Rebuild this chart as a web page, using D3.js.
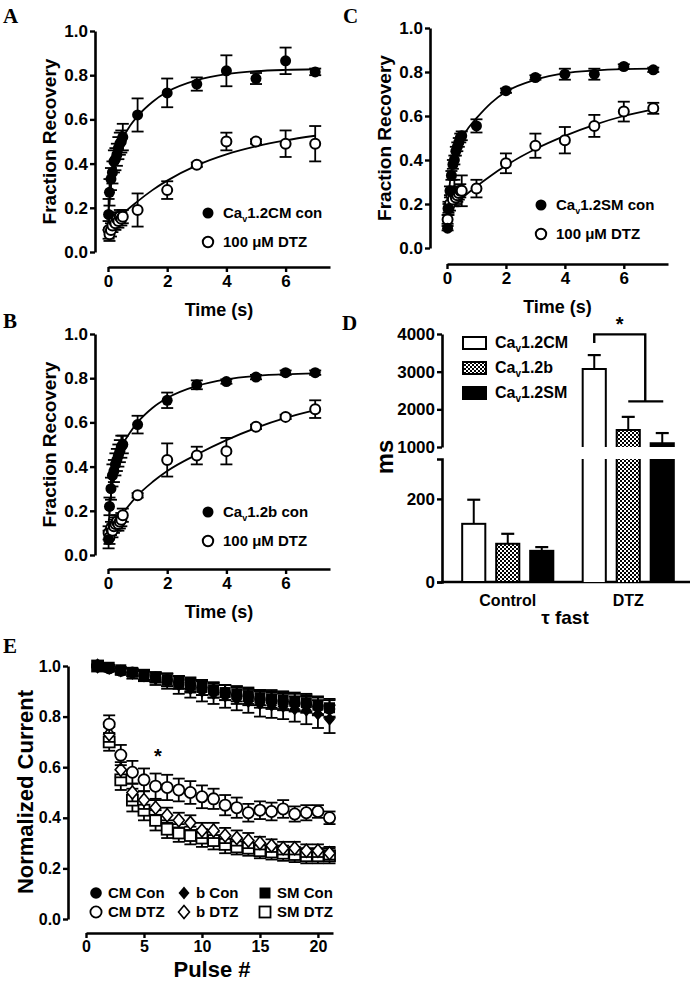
<!DOCTYPE html>
<html><head><meta charset="utf-8">
<script src="https://cdn.jsdelivr.net/npm/d3@7"></script>
<style>body{margin:0;background:#fff}</style>
</head><body>
<script>
// ---------- DATA ----------
// Panels A-C: recovery time points (s)
const recTime = [0.02,0.05,0.1,0.15,0.2,0.25,0.3,0.35,0.4,0.45,0.5,1,2,3,4,5,6,7];
const recTimeTicks = [0,2,4,6];
const recYTicks = [0,0.2,0.4,0.6,0.8,1.0];

const aCon    = [0.17,0.27,0.33,0.36,0.41,0.42,0.44,0.47,0.49,0.50,0.52,0.62,0.72,0.76,0.82,0.785,0.865,0.815];
const aConErr = [0.07,0.06,0.05,0.05,0.05,0.05,0.05,0.05,0.05,0.05,0.06,0.075,0.065,0.03,0.07,0.025,0.06,0.015];
const aDtz    = [0.10,0.08,0.10,0.12,0.14,0.13,0.15,0.14,0.16,0.15,0.16,0.19,0.28,0.395,0.50,0.50,0.49,0.49];
const aDtzErr = [0.04,0.03,0.03,0.03,0.03,0.03,0.03,0.03,0.03,0.03,0.03,0.075,0.04,0.01,0.04,0.01,0.06,0.08];
const aConFitT = [0,0.1,0.2,0.3,0.5,0.75,1,1.5,2,3,4,5,6,7];
const aConFit  = [0.15,0.30,0.39,0.447,0.515,0.572,0.615,0.679,0.725,0.778,0.805,0.818,0.824,0.827];
const aDtzFitT = [0,0.25,0.5,1,1.5,2,3,4,5,6,7];
const aDtzFit  = [0.10,0.137,0.172,0.229,0.28,0.323,0.392,0.442,0.478,0.505,0.526];

const bCon    = [0.07,0.22,0.30,0.36,0.38,0.41,0.43,0.45,0.47,0.49,0.50,0.59,0.70,0.77,0.785,0.805,0.825,0.825];
const bConErr = [0.04,0.04,0.05,0.05,0.05,0.05,0.05,0.05,0.05,0.05,0.04,0.04,0.035,0.02,0.01,0.01,0.01,0.01];
const bDtz    = [0.10,0.08,0.12,0.11,0.13,0.14,0.15,0.14,0.15,0.16,0.18,0.27,0.43,0.45,0.47,0.58,0.625,0.66];
const bDtzErr = [0.03,0.03,0.03,0.03,0.03,0.03,0.03,0.03,0.03,0.03,0.03,0.01,0.075,0.04,0.06,0.01,0.01,0.04];
const bConFitT = [0,0.1,0.2,0.3,0.5,0.75,1,1.5,2,3,4,5,6,7];
const bConFit  = [0.10,0.27,0.37,0.43,0.50,0.555,0.60,0.665,0.71,0.765,0.795,0.81,0.818,0.822];
const bDtzFitT = [0,0.5,1,1.5,2,3,4,5,6,7];
const bDtzFit  = [0.10,0.19,0.27,0.33,0.38,0.455,0.52,0.575,0.62,0.655];

const cCon    = [0.09,0.18,0.26,0.33,0.38,0.40,0.44,0.46,0.48,0.50,0.51,0.555,0.715,0.775,0.79,0.79,0.825,0.81];
const cConErr = [0.01,0.02,0.02,0.02,0.02,0.02,0.02,0.02,0.02,0.02,0.02,0.03,0.01,0.01,0.025,0.025,0.01,0.01];
const cDtz    = [0.13,0.18,0.20,0.24,0.22,0.25,0.23,0.24,0.25,0.26,0.26,0.27,0.385,0.465,0.49,0.555,0.62,0.635];
const cDtzErr = [0.02,0.03,0.03,0.03,0.03,0.06,0.03,0.03,0.03,0.03,0.07,0.04,0.045,0.055,0.06,0.05,0.045,0.025];
const cConFitT = [0,0.1,0.2,0.3,0.5,0.75,1,1.5,2,3,4,5,6,7];
const cConFit  = [0.12,0.30,0.39,0.44,0.50,0.55,0.59,0.66,0.71,0.765,0.795,0.807,0.813,0.815];
const cDtzFitT = [0,0.25,0.5,1,1.5,2,3,4,5,6,7];
const cDtzFit  = [0.15,0.19,0.225,0.28,0.33,0.375,0.45,0.51,0.56,0.60,0.63];

// Panel D: tau fast (ms)
const tauGroups = ["Control","DTZ"];
const tauSeries = ["1.2CM","1.2b","1.2SM"];
const tauControl    = [140, 92, 75];
const tauControlErr = [58, 24, 9];
const tauDTZ        = [3070, 1450, 1100];
const tauDTZErr     = [370, 350, 270];
const tauLowTicks = [0,200];
const tauHighTicks = [1000,2000,3000,4000];

// Panel E: normalized current vs pulse #
const pulses = [1,2,3,4,5,6,7,8,9,10,11,12,13,14,15,16,17,18,19,20,21];
const pulseTicks = [0,5,10,15,20];
const eYTicks = [0,0.2,0.4,0.6,0.8,1.0];
const cmCon = [1.00,0.99,0.98,0.975,0.965,0.955,0.945,0.935,0.925,0.915,0.905,0.895,0.885,0.88,0.87,0.865,0.86,0.855,0.85,0.84,0.83];
const cmConErr = [0.005,0.01,0.01,0.015,0.02,0.02,0.025,0.025,0.03,0.03,0.03,0.03,0.035,0.035,0.035,0.035,0.035,0.035,0.035,0.035,0.035];
const bConE = [1.00,0.99,0.98,0.97,0.96,0.95,0.94,0.925,0.91,0.90,0.89,0.88,0.87,0.86,0.85,0.845,0.84,0.83,0.825,0.81,0.79];
const bConEErr = [0.005,0.01,0.015,0.02,0.02,0.025,0.03,0.035,0.035,0.04,0.04,0.045,0.045,0.045,0.05,0.05,0.05,0.05,0.055,0.055,0.055];
const smCon = [1.00,0.995,0.985,0.975,0.965,0.955,0.945,0.935,0.925,0.915,0.905,0.895,0.89,0.88,0.875,0.87,0.865,0.86,0.855,0.845,0.835];
const smConErr = [0.005,0.01,0.01,0.015,0.02,0.02,0.025,0.025,0.025,0.03,0.03,0.03,0.03,0.03,0.03,0.035,0.035,0.035,0.035,0.035,0.035];
const cmDtz = [1.00,0.77,0.648,0.58,0.55,0.525,0.52,0.51,0.50,0.483,0.475,0.45,0.44,0.42,0.43,0.425,0.435,0.415,0.42,0.425,0.40];
const cmDtzErr = [0,0.035,0.04,0.045,0.045,0.05,0.05,0.045,0.045,0.045,0.04,0.04,0.04,0.035,0.035,0.035,0.035,0.03,0.03,0.025,0.025];
const bDtzE = [1.00,0.73,0.59,0.50,0.47,0.44,0.41,0.39,0.38,0.35,0.35,0.33,0.32,0.31,0.30,0.29,0.28,0.28,0.27,0.27,0.26];
const bDtzEErr = [0,0.03,0.03,0.035,0.035,0.03,0.03,0.03,0.03,0.03,0.03,0.03,0.03,0.03,0.025,0.025,0.025,0.025,0.025,0.025,0.025];
const smDtz = [1.00,0.70,0.55,0.47,0.43,0.39,0.355,0.34,0.33,0.32,0.31,0.295,0.285,0.28,0.27,0.265,0.26,0.255,0.25,0.25,0.25];
const smDtzErr = [0,0.035,0.04,0.045,0.04,0.04,0.035,0.035,0.035,0.035,0.035,0.035,0.03,0.03,0.03,0.03,0.03,0.03,0.03,0.03,0.03];

// ---------- DRAWING ----------
const FONT = "'Liberation Sans', Arial, Helvetica, sans-serif";
const SERIF = "'Liberation Serif', 'Times New Roman', serif";
const svg = d3.select("body").append("svg").attr("width",691).attr("height",994)
  .style("background","#fff");

const defs = svg.append("defs");
const pat = defs.append("pattern").attr("id","checker").attr("patternUnits","userSpaceOnUse")
  .attr("width",4).attr("height",4);
pat.append("rect").attr("width",4).attr("height",4).attr("fill","#fff");
pat.append("rect").attr("width",2).attr("height",2).attr("fill","#000");
pat.append("rect").attr("x",2).attr("y",2).attr("width",2).attr("height",2).attr("fill","#000");

function styleAxis(g, fs) {
  g.attr("font-family", FONT).attr("font-size", fs).attr("font-weight","bold");
  g.select(".domain").attr("stroke-width",2.6).attr("stroke","#000");
  g.selectAll(".tick line").attr("stroke-width",2.4).attr("stroke","#000");
  g.selectAll(".tick text").attr("fill","#000");
}

function panelLetter(t, x, y) {
  svg.append("text").attr("x",x).attr("y",y).text(t)
    .attr("font-family",SERIF).attr("font-weight","bold").attr("font-size",21);
}

function caLabel(sel, suffix, fs) {
  sel.append("tspan").text("Ca");
  sel.append("tspan").attr("font-size", Math.round(fs*0.62)).attr("dy", 4).text("v");
  sel.append("tspan").attr("dy", -4).text(suffix);
}

function errorBars(g, xs, ys, errs, x, y, cap) {
  xs.forEach((t,i) => {
    if (!errs[i]) return;
    const cx = x(t), lo = y(ys[i]-errs[i]), hi = y(ys[i]+errs[i]);
    g.append("line").attr("x1",cx).attr("x2",cx).attr("y1",lo).attr("y2",hi)
      .attr("stroke","#000").attr("stroke-width",1.8);
    [lo,hi].forEach(yy => g.append("line").attr("x1",cx-cap).attr("x2",cx+cap)
      .attr("y1",yy).attr("y2",yy).attr("stroke","#000").attr("stroke-width",1.8));
  });
}

function recoveryPanel(o) {
  const x = d3.scaleLinear().domain([0,7.5]).range([o.x0, o.x1]);
  const y = d3.scaleLinear().domain([0,1]).range([o.y0, o.y1]);
  const gy = svg.append("g").attr("transform",`translate(${o.ax},0)`)
    .call(d3.axisLeft(y).tickValues(recYTicks).tickFormat(d3.format(".1f"))
      .tickSize(5).tickSizeOuter(0).tickPadding(2));
  styleAxis(gy, 17);
  const gx = svg.append("g").attr("transform",`translate(0,${o.xAxisY})`)
    .call(d3.axisBottom(x).tickValues(recTimeTicks).tickSize(5).tickSizeOuter(0).tickPadding(3));
  styleAxis(gx, 17);

  svg.append("text").attr("transform",`translate(${o.ax-39},${(o.y0+o.y1)/2}) rotate(-90)`)
    .attr("text-anchor","middle").attr("font-family",FONT).attr("font-weight","bold")
    .attr("font-size",19).text("Fraction Recovery");
  svg.append("text").attr("x",(o.x0+o.x1)/2).attr("y",o.xAxisY+49)
    .attr("text-anchor","middle").attr("font-family",FONT).attr("font-weight","bold")
    .attr("font-size",18).text("Time (s)");

  const line = d3.line().x(d=>x(d[0])).y(d=>y(d[1])).curve(d3.curveMonotoneX);
  const g = svg.append("g");
  g.append("path").attr("d", line(o.conFitT.map((t,i)=>[t,o.conFit[i]])))
    .attr("fill","none").attr("stroke","#000").attr("stroke-width",1.8);
  g.append("path").attr("d", line(o.dtzFitT.map((t,i)=>[t,o.dtzFit[i]])))
    .attr("fill","none").attr("stroke","#000").attr("stroke-width",1.8);
  errorBars(g, recTime, o.dtz, o.dtzErr, x, y, 6);
  errorBars(g, recTime, o.con, o.conErr, x, y, 6);
  g.selectAll(null).data(recTime).join("circle")
    .attr("cx",d=>x(d)).attr("cy",(d,i)=>y(o.dtz[i])).attr("r",5)
    .attr("fill","#fff").attr("stroke","#000").attr("stroke-width",2);
  g.selectAll(null).data(recTime).join("circle")
    .attr("cx",d=>x(d)).attr("cy",(d,i)=>y(o.con[i])).attr("r",5.5)
    .attr("fill","#000");

  // legend
  const lx = o.legX, ly = o.legY;
  svg.append("circle").attr("cx",lx).attr("cy",ly).attr("r",5.5).attr("fill","#000");
  svg.append("circle").attr("cx",lx).attr("cy",ly+29).attr("r",5.2).attr("fill","#fff")
    .attr("stroke","#000").attr("stroke-width",2);
  const t1 = svg.append("text").attr("x",lx+15).attr("y",ly+5).attr("font-family",FONT)
    .attr("font-weight","bold").attr("font-size",15);
  caLabel(t1, o.legName, 15);
  svg.append("text").attr("x",lx+15).attr("y",ly+34).attr("font-family",FONT)
    .attr("font-weight","bold").attr("font-size",15).text("100 \u03BCM DTZ");
}

// Panel A
panelLetter("A", 3, 23);
recoveryPanel({x0:108,x1:330,y0:252,y1:31,ax:95,xAxisY:267,
  con:aCon,conErr:aConErr,dtz:aDtz,dtzErr:aDtzErr,
  conFitT:aConFitT,conFit:aConFit,dtzFitT:aDtzFitT,dtzFit:aDtzFit,
  legX:208,legY:213,legName:"1.2CM con"});
// Panel B
panelLetter("B", 3, 328);
recoveryPanel({x0:108,x1:330,y0:555,y1:334,ax:95,xAxisY:569,
  con:bCon,conErr:bConErr,dtz:bDtz,dtzErr:bDtzErr,
  conFitT:bConFitT,conFit:bConFit,dtzFitT:bDtzFitT,dtzFit:bDtzFit,
  legX:208,legY:512,legName:"1.2b con"});
// Panel C
panelLetter("C", 343, 23);
recoveryPanel({x0:447,x1:668,y0:248,y1:28,ax:430,xAxisY:264,
  con:cCon,conErr:cConErr,dtz:cDtz,dtzErr:cDtzErr,
  conFitT:cConFitT,conFit:cConFit,dtzFitT:cDtzFitT,dtzFit:cDtzFit,
  legX:541,legY:205,legName:"1.2SM con"});

// ---------- Panel D ----------
panelLetter("D", 342, 330);
(function(){
  const yLow = d3.scaleLinear().domain([0,296]).range([582,459]);
  const yHigh = d3.scaleLinear().domain([1000,4000]).range([447,334]);
  const x0 = d3.scaleBand().domain(tauGroups).range([447.5,688.5]);
  const x1 = d3.scaleBand().domain(tauSeries).range([0,x0.bandwidth()]).paddingInner(0.32).paddingOuter(0.432);
  const fills = ["#fff","url(#checker)","#000"];
  const axX = 442;
  const gHi = svg.append("g").attr("transform",`translate(${axX},0)`)
    .call(d3.axisLeft(yHigh).tickValues(tauHighTicks).tickFormat(d3.format("d")).tickSize(5).tickSizeOuter(0).tickPadding(2));
  styleAxis(gHi, 17);
  const gLo = svg.append("g").attr("transform",`translate(${axX},0)`)
    .call(d3.axisLeft(yLow).tickValues(tauLowTicks).tickFormat(d3.format("d")).tickSize(5).tickSizeOuter(5).tickPadding(2));
  styleAxis(gLo, 17);
  // x axis line
  svg.append("line").attr("x1",axX-1).attr("x2",690).attr("y1",yLow(0)).attr("y2",yLow(0))
    .attr("stroke","#000").attr("stroke-width",2.6);

  const g = svg.append("g");
  const bw = x1.bandwidth();
  // Control bars
  tauSeries.forEach((s,i)=>{
    const bx = x0("Control")+x1(s), v = tauControl[i], e = tauControlErr[i];
    const cx = bx+bw/2;
    g.append("line").attr("x1",cx).attr("x2",cx).attr("y1",yLow(v)).attr("y2",yLow(v+e)).attr("stroke","#000").attr("stroke-width",2);
    g.append("line").attr("x1",cx-6.5).attr("x2",cx+6.5).attr("y1",yLow(v+e)).attr("y2",yLow(v+e)).attr("stroke","#000").attr("stroke-width",2.2);
    g.append("rect").attr("x",bx).attr("y",yLow(v)).attr("width",bw).attr("height",yLow(0)-yLow(v))
      .attr("fill",fills[i]).attr("stroke","#000").attr("stroke-width",2);
  });
  // DTZ bars (broken axis)
  tauSeries.forEach((s,i)=>{
    const bx = x0("DTZ")+x1(s), v = tauDTZ[i], e = tauDTZErr[i];
    const cx = bx+bw/2;
    g.append("line").attr("x1",cx).attr("x2",cx).attr("y1",yHigh(v)).attr("y2",yHigh(v+e)).attr("stroke","#000").attr("stroke-width",2);
    g.append("line").attr("x1",cx-6.5).attr("x2",cx+6.5).attr("y1",yHigh(v+e)).attr("y2",yHigh(v+e)).attr("stroke","#000").attr("stroke-width",2.2);
    // upper piece
    g.append("rect").attr("x",bx).attr("y",yHigh(v)).attr("width",bw).attr("height",yHigh(1000)-yHigh(v)).attr("fill",fills[i]);
    g.append("path").attr("d",`M${bx},${yHigh(1000)}V${yHigh(v)}H${bx+bw}V${yHigh(1000)}`)
      .attr("fill","none").attr("stroke","#000").attr("stroke-width",2);
    // lower piece
    g.append("rect").attr("x",bx).attr("y",yLow(296)).attr("width",bw).attr("height",yLow(0)-yLow(296)).attr("fill",fills[i]);
    g.append("path").attr("d",`M${bx},${yLow(296)}V${yLow(0)}M${bx+bw},${yLow(296)}V${yLow(0)}`)
      .attr("fill","none").attr("stroke","#000").attr("stroke-width",2);
  });
  // significance bracket
  const xa = x0("DTZ")+x1("1.2CM")+bw/2;
  const xb = (x0("DTZ")+x1("1.2b")+bw/2 + x0("DTZ")+x1("1.2SM")+bw/2)/2;
  svg.append("path").attr("d",`M${xa},${yHigh(3760)}V${yHigh(3990)}H${xb}V${yHigh(2210)}M${x0("DTZ")+x1("1.2b")+bw/2},${yHigh(2210)}H${x0("DTZ")+x1("1.2SM")+bw/2+1}`)
    .attr("fill","none").attr("stroke","#000").attr("stroke-width",2.4);
  svg.append("text").attr("x",(xa+xb)/2).attr("y",yHigh(3990)-3).attr("text-anchor","middle")
    .attr("font-family",FONT).attr("font-weight","bold").attr("font-size",20).text("*");

  // labels
  tauGroups.forEach(gname=>{
    svg.append("text").attr("x",x0(gname)+x0.bandwidth()/2).attr("y",606).attr("text-anchor","middle")
      .attr("font-family",FONT).attr("font-weight","bold").attr("font-size",16).text(gname);
  });
  svg.append("text").attr("x",565).attr("y",624).attr("text-anchor","middle")
    .attr("font-family",FONT).attr("font-weight","bold").attr("font-size",19).text("\u03C4 fast");
  svg.append("text").attr("transform",`translate(393,457) rotate(-90)`).attr("text-anchor","middle")
    .attr("font-family",FONT).attr("font-weight","bold").attr("font-size",24).text("ms");

  // legend
  const legY = [343,368,393];
  tauSeries.forEach((s,i)=>{
    svg.append("rect").attr("x",463).attr("y",legY[i]-6).attr("width",23).attr("height",12)
      .attr("fill",fills[i]).attr("stroke","#000").attr("stroke-width",2);
    const t = svg.append("text").attr("x",495).attr("y",legY[i]+5).attr("font-family",FONT)
      .attr("font-weight","bold").attr("font-size",16);
    caLabel(t, s, 16);
  });
})();

// ---------- Panel E ----------
panelLetter("E", 3, 653);
(function(){
  const x = d3.scaleLinear().domain([0,21.3]).range([86,333]);
  const y = d3.scaleLinear().domain([0,1]).range([919,666]);
  const gy = svg.append("g").attr("transform","translate(68,0)")
    .call(d3.axisLeft(y).tickValues(eYTicks).tickFormat(d3.format(".1f")).tickSize(5).tickSizeOuter(0).tickPadding(2));
  styleAxis(gy, 16);
  const gx = svg.append("g").attr("transform","translate(0,933)")
    .call(d3.axisBottom(x).tickValues(pulseTicks).tickSize(5).tickSizeOuter(0).tickPadding(3));
  styleAxis(gx, 16);
  svg.append("text").attr("transform","translate(33,792) rotate(-90)").attr("text-anchor","middle")
    .attr("font-family",FONT).attr("font-weight","bold").attr("font-size",22).text("Normalized Current");
  svg.append("text").attr("x",212).attr("y",977).attr("text-anchor","middle")
    .attr("font-family",FONT).attr("font-weight","bold").attr("font-size",22).text("Pulse #");

  const shapes = {
    circle: (g,cx,cy,fill)=>g.append("circle").attr("cx",cx).attr("cy",cy).attr("r",fill?5.8:5.6)
      .attr("fill",fill?"#000":"#fff").attr("stroke","#000").attr("stroke-width",fill?0:1.8),
    diamond: (g,cx,cy,fill)=>g.append("path").attr("d",`M${cx},${cy-6.5}L${cx+5.5},${cy}L${cx},${cy+6.5}L${cx-5.5},${cy}Z`)
      .attr("fill",fill?"#000":"#fff").attr("stroke","#000").attr("stroke-width",fill?0:1.6),
    square: (g,cx,cy,fill)=>g.append("rect").attr("x",cx-5.5).attr("y",cy-5.5).attr("width",11).attr("height",11)
      .attr("fill",fill?"#000":"#fff").attr("stroke","#000").attr("stroke-width",fill?0:1.8)
  };
  const series = [
    {v:smDtz,e:smDtzErr,s:"square",f:false},
    {v:bDtzE,e:bDtzEErr,s:"diamond",f:false},
    {v:cmDtz,e:cmDtzErr,s:"circle",f:false},
    {v:smCon,e:smConErr,s:"square",f:true},
    {v:bConE,e:bConEErr,s:"diamond",f:true},
    {v:cmCon,e:cmConErr,s:"circle",f:true}
  ];
  const g = svg.append("g");
  series.forEach(ser=>{
    errorBars(g, pulses, ser.v, ser.e, x, y, 6);
    pulses.forEach((p,i)=>shapes[ser.s](g, x(p), y(ser.v[i]), ser.f));
  });
  svg.append("text").attr("x",158).attr("y",763).attr("text-anchor","middle")
    .attr("font-family",FONT).attr("font-weight","bold").attr("font-size",20).text("*");

  // legend
  const leg = [
    {s:"circle",f:true,t:"CM Con",x:96,y:893},{s:"diamond",f:true,t:"b Con",x:184,y:893},{s:"square",f:true,t:"SM Con",x:265,y:893},
    {s:"circle",f:false,t:"CM DTZ",x:96,y:912},{s:"diamond",f:false,t:"b DTZ",x:184,y:912},{s:"square",f:false,t:"SM DTZ",x:265,y:912}
  ];
  leg.forEach(l=>{
    shapes[l.s](svg, l.x, l.y, l.f);
    svg.append("text").attr("x",l.x+12).attr("y",l.y+5).attr("font-family",FONT)
      .attr("font-weight","bold").attr("font-size",15).text(l.t);
  });
})();
</script></body></html>
